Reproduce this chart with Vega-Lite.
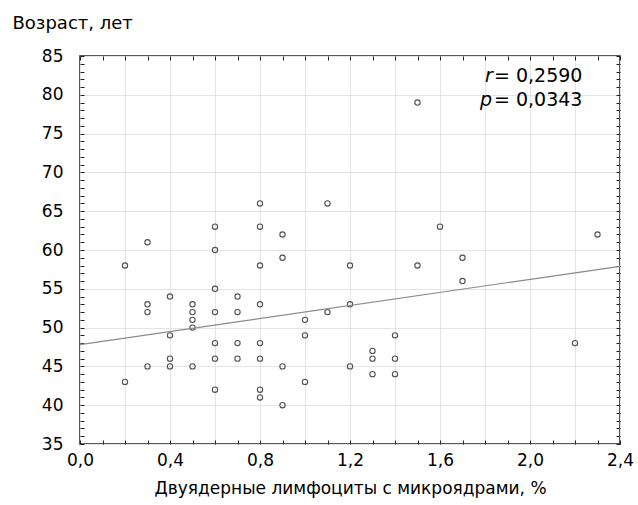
{
  "$schema": "https://vega.github.io/schema/vega-lite/v6.json",
  "width": 540,
  "height": 388,
  "autosize": {"type": "none"},
  "padding": {"left": 80, "top": 56, "right": 18, "bottom": 61},
  "background": "white",
  "config": {
    "view": {"stroke": "#222", "strokeWidth": 1.5},
    "font": "DejaVu Sans",
    "axis": {
      "labelFont": "DejaVu Sans",
      "labelFontSize": 17,
      "labelColor": "#000",
      "titleFont": "DejaVu Sans",
      "titleFontSize": 17,
      "titleFontWeight": "normal",
      "titleColor": "#000",
      "domain": false,
      "tickColor": "#222",
      "tickWidth": 1,
      "gridColor": "#e4e4e4",
      "gridWidth": 1
    }
  },
  "resolve": {"axis": {"x": "independent", "y": "independent"}},
  "layer": [
    {
      "data": {"values": [
        {"x": 0.2, "y": 58}, {"x": 0.2, "y": 43},
        {"x": 0.3, "y": 61}, {"x": 0.3, "y": 53}, {"x": 0.3, "y": 52}, {"x": 0.3, "y": 45},
        {"x": 0.4, "y": 54}, {"x": 0.4, "y": 49}, {"x": 0.4, "y": 46}, {"x": 0.4, "y": 45},
        {"x": 0.5, "y": 53}, {"x": 0.5, "y": 52}, {"x": 0.5, "y": 51}, {"x": 0.5, "y": 50}, {"x": 0.5, "y": 45},
        {"x": 0.6, "y": 63}, {"x": 0.6, "y": 60}, {"x": 0.6, "y": 55}, {"x": 0.6, "y": 52}, {"x": 0.6, "y": 48}, {"x": 0.6, "y": 46}, {"x": 0.6, "y": 42},
        {"x": 0.7, "y": 54}, {"x": 0.7, "y": 52}, {"x": 0.7, "y": 48}, {"x": 0.7, "y": 46},
        {"x": 0.8, "y": 66}, {"x": 0.8, "y": 63}, {"x": 0.8, "y": 58}, {"x": 0.8, "y": 53}, {"x": 0.8, "y": 48}, {"x": 0.8, "y": 46}, {"x": 0.8, "y": 42}, {"x": 0.8, "y": 41},
        {"x": 0.9, "y": 62}, {"x": 0.9, "y": 59}, {"x": 0.9, "y": 45}, {"x": 0.9, "y": 40},
        {"x": 1.0, "y": 51}, {"x": 1.0, "y": 49}, {"x": 1.0, "y": 43},
        {"x": 1.1, "y": 66}, {"x": 1.1, "y": 52},
        {"x": 1.2, "y": 58}, {"x": 1.2, "y": 53}, {"x": 1.2, "y": 45},
        {"x": 1.3, "y": 47}, {"x": 1.3, "y": 46}, {"x": 1.3, "y": 44},
        {"x": 1.4, "y": 49}, {"x": 1.4, "y": 46}, {"x": 1.4, "y": 44},
        {"x": 1.5, "y": 79}, {"x": 1.5, "y": 58},
        {"x": 1.6, "y": 63},
        {"x": 1.7, "y": 59}, {"x": 1.7, "y": 56},
        {"x": 2.2, "y": 48},
        {"x": 2.3, "y": 62}
      ]},
      "mark": {"type": "point", "shape": "circle", "filled": false, "size": 28, "stroke": "#505050", "strokeWidth": 1.1, "opacity": 1},
      "encoding": {
        "x": {
          "field": "x", "type": "quantitative",
          "scale": {"domain": [0, 2.4], "nice": false, "zero": false},
          "axis": {
            "orient": "bottom",
            "title": "Двуядерные лимфоциты с микроядрами, %",
            "titlePadding": 12,
            "values": [0, 0.1, 0.2, 0.3, 0.4, 0.5, 0.6, 0.7, 0.8, 0.9, 1.0, 1.1, 1.2, 1.3, 1.4, 1.5, 1.6, 1.7, 1.8, 1.9, 2.0, 2.1, 2.2, 2.3, 2.4],
            "labelExpr": "round(datum.value*10) % 4 == 0 ? replace(format(datum.value, '.1f'), '.', ',') : ''",
            "labelPadding": 12,
            "tickSize": -4,
            "gridOpacity": {"condition": {"test": "round(datum.value*10) % 2 == 0", "value": 1}, "value": 0},
            "labelFlush": false,
            "labelOverlap": false
          }
        },
        "y": {
          "field": "y", "type": "quantitative",
          "scale": {"domain": [35, 85], "nice": false, "zero": false},
          "axis": {
            "orient": "left",
            "title": "Возраст,  лет",
            "titleFontSize": 18,
            "titleAngle": 0,
            "titleAlign": "left",
            "titleBaseline": "alphabetic",
            "titleX": -68,
            "titleY": -28,
            "values": [35,36,37,38,39,40,41,42,43,44,45,46,47,48,49,50,51,52,53,54,55,56,57,58,59,60,61,62,63,64,65,66,67,68,69,70,71,72,73,74,75,76,77,78,79,80,81,82,83,84,85],
            "labelExpr": "datum.value % 5 == 0 ? datum.value : ''",
            "labelPadding": 21,
            "tickSize": -4,
            "gridOpacity": {"condition": {"test": "datum.value % 5 == 0", "value": 1}, "value": 0},
            "labelFlush": false,
            "labelOverlap": false
          }
        }
      }
    },
    {
      "data": {"values": [{"x": 0, "y": 47.8}, {"x": 2.4, "y": 57.9}]},
      "mark": {"type": "line", "color": "#8a8a8a", "strokeWidth": 1.2},
      "encoding": {
        "x": {
          "field": "x", "type": "quantitative",
          "axis": {
            "orient": "top", "title": null, "labels": false, "grid": false,
            "values": [0, 0.1, 0.2, 0.3, 0.4, 0.5, 0.6, 0.7, 0.8, 0.9, 1.0, 1.1, 1.2, 1.3, 1.4, 1.5, 1.6, 1.7, 1.8, 1.9, 2.0, 2.1, 2.2, 2.3, 2.4],
            "tickSize": -4
          }
        },
        "y": {
          "field": "y", "type": "quantitative",
          "axis": {
            "orient": "right", "title": null, "labels": false, "grid": false,
            "values": [35,36,37,38,39,40,41,42,43,44,45,46,47,48,49,50,51,52,53,54,55,56,57,58,59,60,61,62,63,64,65,66,67,68,69,70,71,72,73,74,75,76,77,78,79,80,81,82,83,84,85],
            "tickSize": -4
          }
        }
      }
    },
    {
      "data": {"values": [{"x": 1.80, "y": 82.4, "label": "r"}, {"x": 1.778, "y": 79.3, "label": "p"}]},
      "mark": {"type": "text", "align": "left", "baseline": "middle", "fontSize": 19, "fontStyle": "italic", "font": "DejaVu Sans", "color": "#000"},
      "encoding": {
        "x": {"field": "x", "type": "quantitative", "axis": null},
        "y": {"field": "y", "type": "quantitative", "axis": null},
        "text": {"field": "label"}
      }
    },
    {
      "data": {"values": [{"x": 1.84, "y": 82.4, "label": "= 0,2590"}, {"x": 1.84, "y": 79.3, "label": "= 0,0343"}]},
      "mark": {"type": "text", "align": "left", "baseline": "middle", "fontSize": 19, "font": "DejaVu Sans", "color": "#000"},
      "encoding": {
        "x": {"field": "x", "type": "quantitative", "axis": null},
        "y": {"field": "y", "type": "quantitative", "axis": null},
        "text": {"field": "label"}
      }
    }
  ]
}
